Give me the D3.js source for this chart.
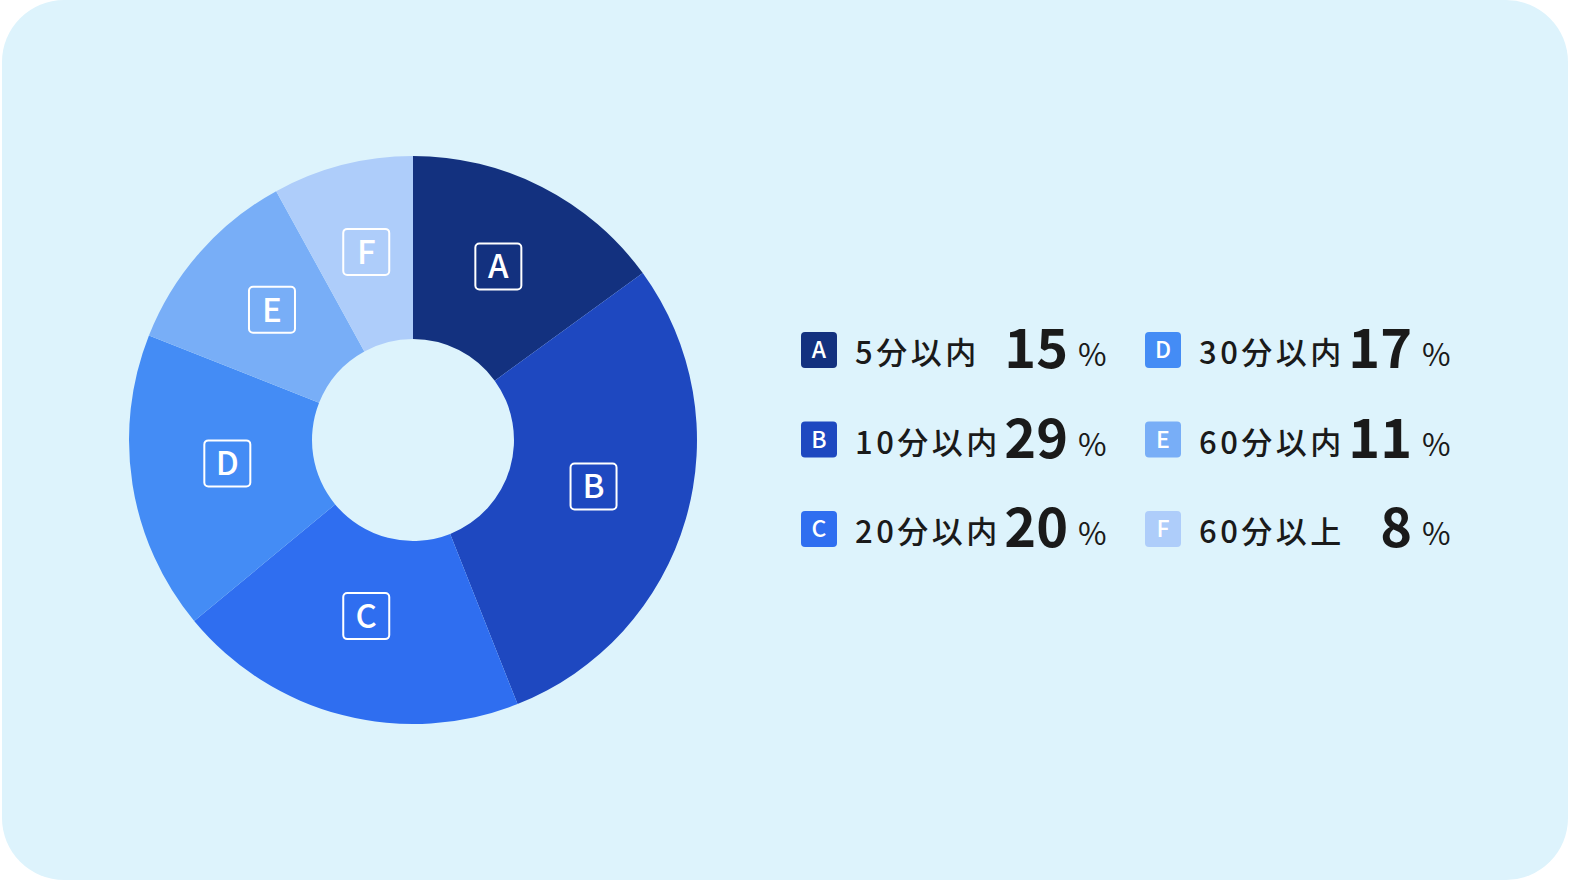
<!DOCTYPE html>
<html>
<head>
<meta charset="utf-8">
<script src="https://cdn.jsdelivr.net/npm/d3@7"></script>
<style>
  html, body { margin: 0; padding: 0; background: #ffffff; overflow: hidden; }
  svg { display: block; }
</style>
</head>
<body>
<svg></svg>
<script>
// Chart data
var keys = ["A", "B", "C", "D", "E", "F"];
var labels = ["5分以内", "10分以内", "20分以内", "30分以内", "60分以内", "60分以上"];
var values = [15, 29, 20, 17, 11, 8];
var colors = ["#13317f", "#1e48c0", "#2f6ef0", "#448cf5", "#78aef7", "#aecdfa"];

var width = 1573;
var height = 882;
var font = "'Noto Sans CJK JP', 'Noto Sans', sans-serif";

var svg = d3.select("svg")
  .attr("width", width)
  .attr("height", height);

// Card background
svg.append("rect")
  .attr("x", 2)
  .attr("y", 0)
  .attr("width", 1566)
  .attr("height", 880)
  .attr("rx", 62)
  .attr("fill", "#ddf3fc");

var data = keys.map(function(k, i) {
  return { key: k, label: labels[i], value: values[i], color: colors[i] };
});

// Donut
var cx = 413, cy = 440;
var pie = d3.pie().sort(null).value(function(d) { return d.value; });
var arc = d3.arc().innerRadius(101).outerRadius(284);
var labelArc = d3.arc().innerRadius(188).outerRadius(188);

var g = svg.append("g").attr("transform", "translate(" + cx + "," + cy + ")");

g.selectAll(".slice")
  .data(pie(data))
  .enter()
  .append("path")
  .attr("class", "slice")
  .attr("d", arc)
  .attr("fill", function(d) { return d.data.color; });

var tags = g.selectAll(".tag")
  .data(pie(data))
  .enter()
  .append("g")
  .attr("class", "tag")
  .attr("transform", function(d) {
    var c = labelArc.centroid(d);
    return "translate(" + c[0] + "," + (c[1] - 6) + ")";
  });

tags.append("rect")
  .attr("x", -23).attr("y", -23)
  .attr("width", 46).attr("height", 46)
  .attr("rx", 4)
  .attr("fill", "none")
  .attr("stroke", "#ffffff")
  .attr("stroke-width", 2);

tags.append("text")
  .attr("x", 0)
  .attr("y", 12)
  .attr("text-anchor", "middle")
  .attr("fill", "#ffffff")
  .style("font-family", font)
  .style("font-size", "33px")
  .style("font-weight", 500)
  .text(function(d) { return d.data.key; });

// Legend
var colX = [801, 1145];
var numEnd = [1068, 1412];
var rowY = d3.scalePoint().domain([0, 1, 2]).range([350, 529]);

var items = svg.selectAll(".legend")
  .data(data)
  .enter()
  .append("g")
  .attr("class", "legend")
  .attr("transform", function(d, i) {
    return "translate(0," + rowY(i % 3) + ")";
  });

items.append("rect")
  .attr("x", function(d, i) { return colX[Math.floor(i / 3)]; })
  .attr("y", -18)
  .attr("width", 36).attr("height", 36)
  .attr("rx", 4)
  .attr("fill", function(d) { return d.color; });

items.append("text")
  .attr("x", function(d, i) { return colX[Math.floor(i / 3)] + 18; })
  .attr("y", 8)
  .attr("text-anchor", "middle")
  .attr("fill", "#ffffff")
  .style("font-family", font)
  .style("font-size", "23px")
  .style("font-weight", 500)
  .text(function(d) { return d.key; });

items.append("text")
  .attr("x", function(d, i) { return colX[Math.floor(i / 3)] + 54; })
  .attr("y", 14)
  .attr("fill", "#1a1a1a")
  .style("font-family", font)
  .style("font-size", "31px")
  .style("font-weight", 500)
  .style("letter-spacing", "3.5px")
  .text(function(d) { return d.label; });

items.append("text")
  .attr("x", function(d, i) { return numEnd[Math.floor(i / 3)]; })
  .attr("y", 18)
  .attr("text-anchor", "end")
  .attr("fill", "#1a1a1a")
  .style("font-family", font)
  .style("font-size", "54px")
  .style("font-weight", 700)
  .text(function(d) { return d.value; });

items.append("text")
  .attr("x", function(d, i) { return numEnd[Math.floor(i / 3)] + 10; })
  .attr("y", 16)
  .attr("fill", "#1a1a1a")
  .style("font-family", font)
  .style("font-size", "31px")
  .style("font-weight", 400)
  .text("%");
</script>
</body>
</html>
